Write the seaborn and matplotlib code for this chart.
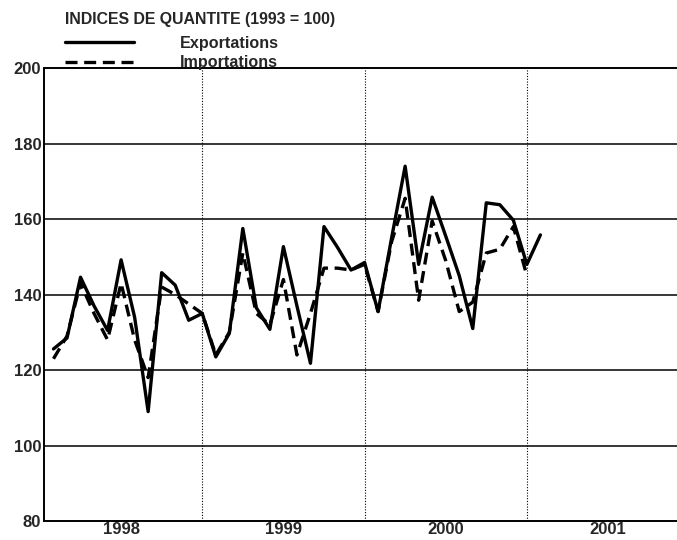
import numpy as np
import pandas as pd
import seaborn as sns
import matplotlib.pyplot as plt

# monthly indices, Jan 1998 onwards (1993 = 100)
exportations = [125.6, 128.5, 144.6, 137.0, 130.5, 149.2, 134.0, 109.0, 145.8, 142.5,
                133.2, 135.0, 123.5, 129.7, 157.5, 136.5, 130.8, 152.7, 137.0, 121.8,
                158.0, 152.5, 146.5, 148.5, 135.5, 155.0, 174.0, 148.0, 165.8, 155.5,
                145.0, 131.0, 164.3, 163.8, 159.7, 148.0, 155.8]
importations = [123.0, 129.0, 143.0, 135.0, 128.0, 143.0, 128.0, 118.0, 142.0, 140.0,
                137.5, 135.0, 124.0, 130.0, 151.0, 135.0, 132.0, 144.0, 124.0, 135.0,
                147.0, 147.0, 146.5, 148.0, 135.5, 154.0, 165.5, 138.5, 159.5, 149.0,
                135.5, 138.0, 151.0, 152.0, 158.0, 145.0]
years = ['1998', '1999', '2000', '2001']
title = 'INDICES DE QUANTITE (1993 = 100)'

sns.set_style('white')
plt.rcParams['font.family'] = ['Liberation Sans', 'DejaVu Sans']

df_exp = pd.DataFrame({'mois': np.arange(1, len(exportations) + 1), 'valeur': exportations})
df_imp = pd.DataFrame({'mois': np.arange(1, len(importations) + 1), 'valeur': importations})

fig = plt.figure(figsize=(6.77, 5.40), dpi=100)
ax = fig.add_axes([0.065, 0.035, 0.935, 0.839])

sns.lineplot(data=df_exp, x='mois', y='valeur', ax=ax, color='black', lw=2.4,
             label='Exportations')
sns.lineplot(data=df_imp, x='mois', y='valeur', ax=ax, color='black', lw=2.4,
             dashes=(3.6, 2.0), label='Importations')

ax.set_xlim(0.3, 47.1)
ax.set_ylim(80, 200)

# horizontal grid solid, year separators dotted
for v in range(100, 200, 20):
    ax.axhline(v, color='black', lw=1.1, zorder=1)
for m in (12, 24, 36):
    ax.axvline(m, color='black', lw=0.8, ls=(0, (1, 1.5)), zorder=1)

ax.set_yticks(range(80, 201, 20))
ax.set_yticks(range(90, 200, 10), minor=True)
ax.set_xticks(range(1, 48), minor=True)
ax.set_xticks([6, 18, 30, 42])
ax.set_xticklabels(years)
ax.tick_params(axis='x', which='major', length=0, labelsize=12, pad=1)
ax.tick_params(axis='x', which='minor', direction='in', length=4, width=1)
ax.tick_params(axis='y', which='major', direction='in', length=0, labelsize=12, pad=2)
ax.tick_params(axis='y', which='minor', direction='in', length=4, width=1)
for lab in ax.get_xticklabels() + ax.get_yticklabels():
    lab.set_fontweight('bold')

ax.set_xlabel('')
ax.set_ylabel('')
ax.spines['right'].set_visible(False)
for s in ('left', 'bottom', 'top'):
    ax.spines[s].set_color('black')
    ax.spines[s].set_linewidth(1.4)

fig.text(0.096, 0.977, title, ha='left', va='top', fontsize=11.4, fontweight='bold')
leg = ax.legend(loc='upper left', bbox_to_anchor=(0.096, 0.934),
                bbox_transform=fig.transFigure, frameon=False, fontsize=11.6,
                handlelength=4.3, handletextpad=2.8, labelspacing=0.28,
                borderpad=0, borderaxespad=0)
for t in leg.get_texts():
    t.set_fontweight('bold')

fig.savefig('out.png', dpi=100)
